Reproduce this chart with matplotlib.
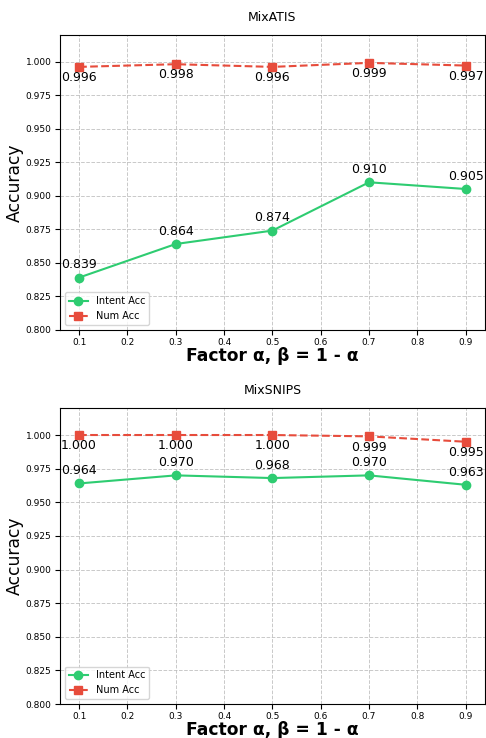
import matplotlib.pyplot as plt
import numpy as np

factors = [0.1, 0.3, 0.5, 0.7, 0.9]
datasets = ["MixATIS", "MixSNIPS"]
intent_acc = {
    "MixATIS": [0.839, 0.864, 0.874, 0.910, 0.905],
    "MixSNIPS": [0.964, 0.970, 0.968, 0.970, 0.963],
}
num_acc = {
    "MixATIS": [0.996, 0.998, 0.996, 0.999, 0.997],
    "MixSNIPS": [1.000, 1.000, 1.000, 0.999, 0.995],
}
yticks = np.arange(0.800, 1.001, 0.025)
xticks = [0.1, 0.2, 0.3, 0.4, 0.5, 0.6, 0.7, 0.8, 0.9]

fig = plt.figure(figsize=(4.86, 7.38), dpi=100)
rects = [[0.123, 0.553, 0.875, 0.400], [0.123, 0.046, 0.875, 0.401]]

for name, rect in zip(datasets, rects):
    ax = fig.add_axes(rect)
    ia = intent_acc[name]
    na = num_acc[name]
    ax.plot(factors, ia, '-o', color='#2ecc71', linewidth=1.5, markersize=6, label='Intent Acc')
    ax.plot(factors, na, '--s', color='#e74c3c', linewidth=1.5, markersize=6, label='Num Acc')
    for x, v in zip(factors, ia):
        ax.annotate(f"{v:.3f}", (x, v), xytext=(0, 4.5), textcoords='offset points',
                    ha='center', va='bottom', fontsize=9)
    for x, v in zip(factors, na):
        ax.annotate(f"{v:.3f}", (x, v), xytext=(0, -3), textcoords='offset points',
                    ha='center', va='top', fontsize=9)
    ax.set_xlim(0.06, 0.94)
    ax.set_ylim(0.8, 1.02)
    ax.set_yticks(yticks)
    ax.set_xticks(xticks)
    ax.tick_params(labelsize=6.5, pad=2.5)
    ax.grid(True, linestyle='--', color='#bbbbbb', linewidth=0.7, alpha=0.8)
    ax.set_title(name, fontsize=9, pad=10)
    ax.set_ylabel("Accuracy", fontsize=12.3, labelpad=1)
    ax.set_xlabel("Factor α, β = 1 - α", fontsize=12.3, fontweight='bold', labelpad=0)
    ax.legend(loc='lower left', fontsize=7)

plt.savefig("out.png", dpi=100)
